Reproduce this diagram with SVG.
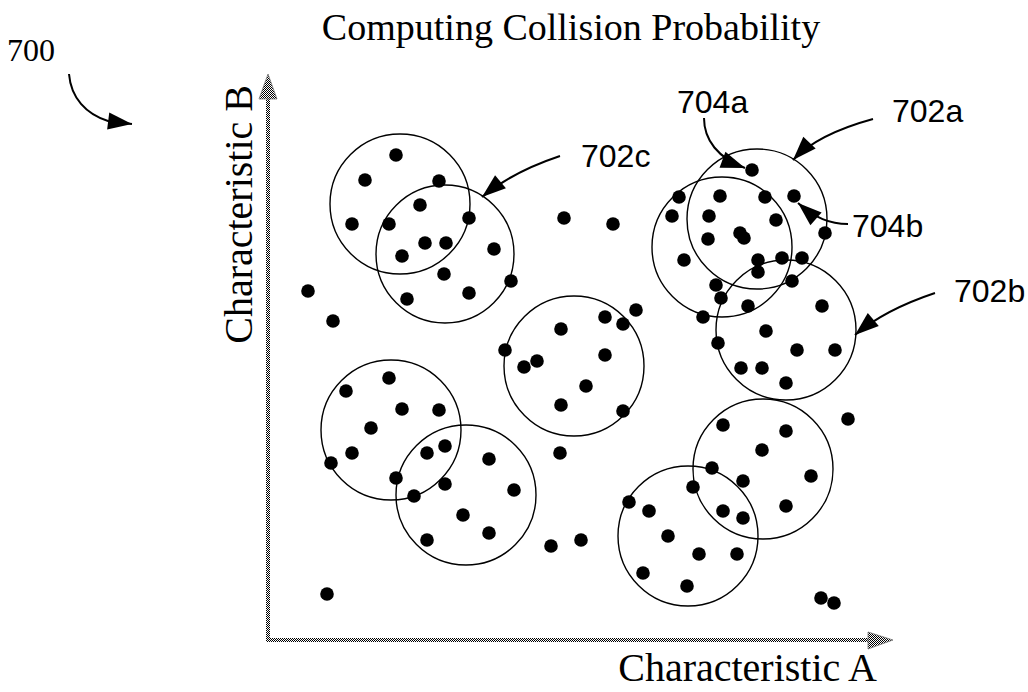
<svg xmlns="http://www.w3.org/2000/svg" width="1028" height="692" viewBox="0 0 1028 692">
<style>
.c{fill:none;stroke:#000;stroke-width:1.4}
.d{fill:#000}
.lead{fill:none;stroke:#000;stroke-width:2;marker-end:url(#ah)}
.lbl{font-family:"Liberation Sans",Arial,sans-serif;font-size:32px;fill:#000}
.ser{font-family:"Liberation Serif","Times New Roman",serif;fill:#000}
.ax{fill:url(#chk)}
.axh{fill:url(#chk);stroke:#777;stroke-width:0.8}
</style>
<defs>
<pattern id="chk" width="2" height="2" patternUnits="userSpaceOnUse">
<rect width="2" height="2" fill="#fff"/>
<rect width="1" height="1" fill="#000"/>
<rect x="1" y="1" width="1" height="1" fill="#000"/>
</pattern>
<marker id="ah" markerUnits="userSpaceOnUse" markerWidth="30" markerHeight="24" viewBox="-26 -12 30 24" refX="0" refY="0" orient="auto">
<path d="M0,0 L-24,-8.5 L-24,8.5 Z" fill="#000"/>
</marker>
</defs>
<rect width="1028" height="692" fill="#fff"/>

<text class="ser" x="571" y="40" font-size="38" text-anchor="middle">Computing Collision Probability</text>
<text class="ser" x="7" y="61" font-size="32">700</text>

<g id="axes">
<rect class="ax" x="266" y="97" width="4" height="545"/>
<rect class="ax" x="266" y="638" width="604" height="4"/>
<path class="axh" d="M268,74 L277,99 L259,99 Z"/>
<path class="axh" d="M893,640 L868,632 L868,649 Z"/>
<text class="ser" x="252" y="85" font-size="40" text-anchor="end" transform="rotate(-90 252 85)">Characteristic B</text>
<text class="ser" x="877" y="681" font-size="40" text-anchor="end">Characteristic A</text>
</g>

<g id="circles">
<circle id="c1" class="c" cx="400" cy="204" r="70"/>
<circle id="n702c" class="c" cx="445" cy="254" r="69"/>
<circle id="c3" class="c" cx="574" cy="366" r="70"/>
<circle id="c4" class="c" cx="391" cy="430" r="70"/>
<circle id="c5" class="c" cx="466" cy="495" r="70"/>
<circle id="c6" class="c" cx="763" cy="469" r="70"/>
<circle id="c7" class="c" cx="688" cy="536" r="70"/>
<circle id="n702a" class="c" cx="757" cy="219" r="70"/>
<circle id="c9" class="c" cx="722" cy="247" r="70"/>
<circle id="n702b" class="c" cx="786" cy="330" r="70"/>
</g>

<g id="dots" class="d">
<circle cx="396" cy="155" r="6.8"/><circle cx="365" cy="180" r="6.8"/><circle cx="439" cy="181" r="6.8"/><circle cx="420" cy="205" r="6.8"/><circle cx="469" cy="218" r="6.8"/><circle cx="352" cy="224" r="6.8"/><circle cx="389" cy="224" r="6.8"/><circle cx="425" cy="243" r="6.8"/><circle cx="446" cy="243" r="6.8"/><circle cx="402" cy="256" r="6.8"/><circle cx="494" cy="249" r="6.8"/><circle cx="444" cy="274" r="6.8"/><circle cx="511" cy="281" r="6.8"/><circle cx="407" cy="299" r="6.8"/><circle cx="469" cy="293" r="6.8"/>
<circle cx="308" cy="291" r="6.8"/><circle cx="333" cy="321" r="6.8"/><circle cx="564" cy="218" r="6.8"/><circle cx="613" cy="224" r="6.8"/>
<circle cx="636" cy="310" r="6.8"/><circle cx="605" cy="317" r="6.8"/><circle cx="623" cy="324" r="6.8"/><circle cx="561" cy="329" r="6.8"/><circle cx="505" cy="350" r="6.8"/><circle cx="537" cy="361" r="6.8"/><circle cx="524" cy="367" r="6.8"/><circle cx="605" cy="355" r="6.8"/><circle cx="586" cy="386" r="6.8"/><circle cx="561" cy="405" r="6.8"/><circle cx="623" cy="411" r="6.8"/>
<circle cx="389" cy="378" r="6.8"/><circle cx="346" cy="391" r="6.8"/><circle cx="402" cy="409" r="6.8"/><circle cx="439" cy="410" r="6.8"/><circle cx="371" cy="428" r="6.8"/><circle cx="352" cy="453" r="6.8"/><circle cx="331" cy="463" r="6.8"/><circle cx="427" cy="453" r="6.8"/><circle cx="445" cy="446" r="6.8"/><circle cx="489" cy="459" r="6.8"/><circle cx="396" cy="478" r="6.8"/><circle cx="445" cy="484" r="6.8"/><circle cx="414" cy="496" r="6.8"/><circle cx="514" cy="490" r="6.8"/><circle cx="463" cy="515" r="6.8"/><circle cx="489" cy="533" r="6.8"/><circle cx="427" cy="540" r="6.8"/>
<circle cx="560" cy="453" r="6.8"/><circle cx="551" cy="546" r="6.8"/><circle cx="581" cy="540" r="6.8"/><circle cx="327" cy="594" r="6.8"/>
<circle cx="848" cy="419" r="6.8"/><circle cx="723" cy="425" r="6.8"/><circle cx="786" cy="431" r="6.8"/><circle cx="762" cy="450" r="6.8"/><circle cx="712" cy="468" r="6.8"/><circle cx="811" cy="476" r="6.8"/><circle cx="743" cy="481" r="6.8"/><circle cx="693" cy="487" r="6.8"/><circle cx="629" cy="502" r="6.8"/><circle cx="649" cy="511" r="6.8"/><circle cx="723" cy="511" r="6.8"/><circle cx="743" cy="518" r="6.8"/><circle cx="786" cy="506" r="6.8"/><circle cx="668" cy="536" r="6.8"/><circle cx="699" cy="554" r="6.8"/><circle cx="737" cy="554" r="6.8"/><circle cx="643" cy="573" r="6.8"/><circle cx="687" cy="586" r="6.8"/><circle cx="821" cy="598" r="6.8"/><circle cx="834" cy="603" r="6.8"/>
<circle cx="752" cy="170" r="6.8"/><circle cx="794" cy="196" r="6.8"/><circle cx="679" cy="197" r="6.8"/><circle cx="720" cy="196" r="6.8"/><circle cx="765" cy="197" r="6.8"/><circle cx="672" cy="216" r="6.8"/><circle cx="709" cy="216" r="6.8"/><circle cx="776" cy="220" r="6.8"/><circle cx="825" cy="233" r="6.8"/><circle cx="708" cy="239" r="6.8"/><circle cx="740" cy="233" r="6.8"/><circle cx="744" cy="238" r="6.8"/><circle cx="684" cy="260" r="6.8"/><circle cx="758" cy="260" r="6.8"/><circle cx="782" cy="258" r="6.8"/><circle cx="802" cy="258" r="6.8"/><circle cx="758" cy="272" r="6.8"/><circle cx="792" cy="281" r="6.8"/><circle cx="716" cy="285" r="6.8"/><circle cx="721" cy="298" r="6.8"/><circle cx="748" cy="306" r="6.8"/><circle cx="703" cy="317" r="6.8"/><circle cx="822" cy="306" r="6.8"/><circle cx="766" cy="331" r="6.8"/><circle cx="718" cy="343" r="6.8"/><circle cx="797" cy="350" r="6.8"/><circle cx="835" cy="350" r="6.8"/><circle cx="741" cy="368" r="6.8"/><circle cx="762" cy="368" r="6.8"/><circle cx="786" cy="383" r="6.8"/>
</g>

<g id="connectors">
<path class="lead" d="M69,74 C71,98 86,114 108,121 L132,124"/>
<path class="lead" d="M560,156 C530,166 505,178 482,197"/>
<path class="lead" d="M704,118 C704,140 718,158 745,168"/>
<path class="lead" d="M873,119 C840,128 810,142 793,160"/>
<path class="lead" d="M848,224 C830,224 815,218 798,203"/>
<path class="lead" d="M935,293 C905,303 875,318 855,335"/>
</g>

<g id="labels">
<text class="lbl" x="581" y="167">702c</text>
<text class="lbl" x="677" y="113">704a</text>
<text class="lbl" x="892" y="122">702a</text>
<text class="lbl" x="852" y="237">704b</text>
<text class="lbl" x="954" y="302">702b</text>
</g>
</svg>
